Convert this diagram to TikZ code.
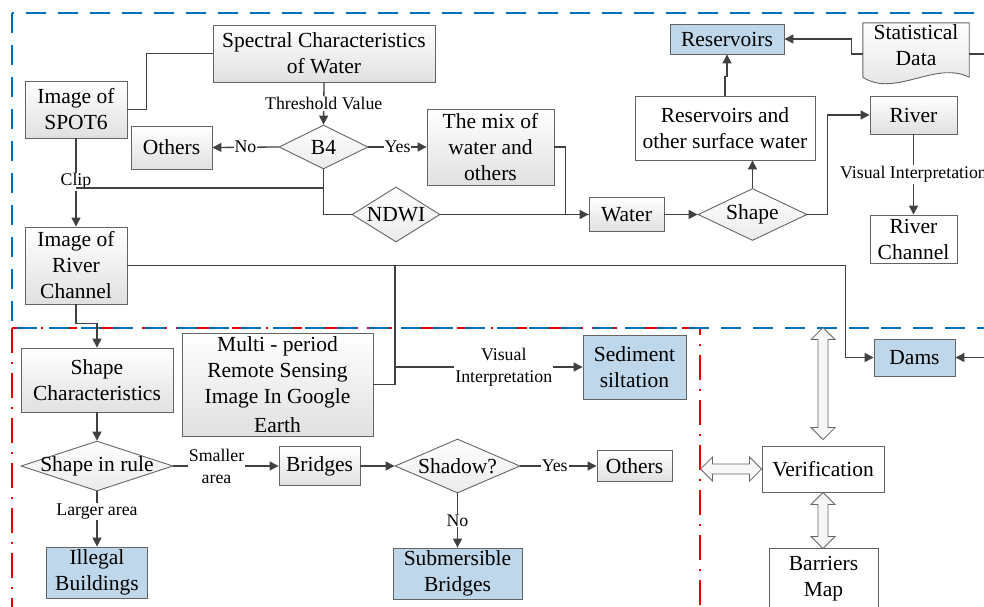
\documentclass[tikz,border=0pt]{standalone}
\usepackage{fontspec}
\setmainfont{Liberation Serif}
\usetikzlibrary{shapes.geometric,arrows.meta}
\definecolor{frameblue}{RGB}{0,112,192}
\definecolor{framered}{RGB}{232,0,0}
\definecolor{resblue}{RGB}{190,215,234}
\definecolor{linegray}{RGB}{64,64,64}
\definecolor{boxgray}{RGB}{100,100,100}
% hollow double arrow: tail point, length, direction
\newcommand{\dblarrow}[3]{%
\draw[hollow,shift={#1},rotate=#3] (0,0) -- (12,12) -- (12,5) -- (#2-12,5) -- (#2-12,12) -- (#2,0) -- (#2-12,-12) -- (#2-12,-5) -- (12,-5) -- (12,-12) -- cycle;}
\tikzset{
>={Triangle[length=9pt,width=9pt]},
every node/.style={font=\fontsize{21.5}{26}\selectfont},
box/.style={draw=boxgray,line width=0.9pt,inner sep=0pt,align=center},
graybox/.style={box,top color=white,bottom color=black!12},
whitebox/.style={box,fill=white},
bluebox/.style={box,fill=resblue},
dia/.style={box,diamond,aspect=2,top color=white,bottom color=black!8},
lbl/.style={font=\fontsize{17.8}{22}\selectfont,fill=white,inner sep=1pt,align=center},
hollow/.style={draw=black!60,fill=black!3,line width=0.8pt},
blueframe/.style={draw=frameblue,line width=2.6pt,dash pattern=on 20pt off 12pt},
redframe/.style={draw=framered,line width=2.6pt,dash pattern=on 25pt off 9pt on 2pt off 9pt}
}
\begin{document}
\begin{tikzpicture}[x=1pt,y=-1pt]
\useasboundingbox (0,0) rectangle (984,606);
\clip (0,0) rectangle (984,606);
\fill[white] (0,0) rectangle (984,606);
\draw[redframe] (12,328) rectangle (700,640);
\draw[blueframe] (12,13) rectangle (1010,328);
% upper part
\node[graybox,minimum width=222pt,minimum height=57pt] (spec) at (324,53.5) {Spectral Characteristics\\of Water};
\node[graybox,minimum width=102pt,minimum height=57pt] (spot) at (76,109.5) {Image of\\SPOT6};
\node[dia,minimum width=89pt,minimum height=44pt] (b4) at (323.5,147) {\makebox[0pt]{B4}};
\node[graybox,minimum width=81pt,minimum height=43pt] (oth1) at (171.5,147.5) {Others};
\node[graybox,minimum width=127pt,minimum height=76pt] (mix) at (490.5,147) {The mix of\\water and\\others};
\node[dia,minimum width=88pt,minimum height=55pt] (ndwi) at (396,214.5) {\makebox[0pt]{NDWI}};
\node[graybox,minimum width=75pt,minimum height=34pt] (water) at (626.5,214.5) {Water};
\node[dia,minimum width=109pt,minimum height=52pt] (shp) at (752.5,214.5) {\makebox[0pt]{Shape}};
\node[whitebox,minimum width=180pt,minimum height=64pt] (rsw) at (725,128) {Reservoirs and\\other surface water};
\node[bluebox,minimum width=114pt,minimum height=30pt] (res) at (727,39) {Reservoirs};
\node[align=center,inner sep=0pt,minimum width=106pt,minimum height=54pt] (stat) at (916,50) {};
\draw[graybox] (stat.north west) -- (stat.north east) -- (stat.south east) .. controls +(-34,-17) and +(32,21) .. (stat.south west) -- cycle;
\node[align=center] (statt) at (916,45.5) {Statistical\\Data};
\node[graybox,minimum width=87pt,minimum height=38pt] (river) at (913.5,115) {River};
\node[whitebox,minimum width=87pt,minimum height=48pt] (rch) at (913.5,239) {River\\Channel};
\node[graybox,minimum width=102pt,minimum height=77pt] (rimg) at (76,265.5) {Image of\\River\\Channel};
% lower part
\node[graybox,minimum width=152pt,minimum height=64pt] (shpc) at (97,380) {Shape\\Characteristics};
\node[graybox,minimum width=191pt,minimum height=103pt] (multi) at (277.5,384.5) {Multi - period\\Remote Sensing\\Image In Google\\[3pt]Earth};
\node[bluebox,minimum width=103pt,minimum height=64pt] (sed) at (634.5,367) {Sediment\\siltation};
\node[bluebox,minimum width=81pt,minimum height=37pt] (dams) at (914.5,357.5) {Dams};
\node[dia,minimum width=152pt,minimum height=50pt] (rule) at (97,466) {\makebox[0pt]{Shape in rule}};
\node[graybox,minimum width=81pt,minimum height=39pt] (brg) at (319.5,466) {Bridges};
\node[dia,minimum width=125pt,minimum height=54pt] (shd) at (457.5,466) {\makebox[0pt]{Shadow?}};
\node[graybox,minimum width=75pt,minimum height=31pt] (oth2) at (634.5,466) {Others};
\node[bluebox,minimum width=129pt,minimum height=51pt] (sub) at (457.5,573.5) {Submersible\\Bridges};
\node[bluebox,minimum width=101pt,minimum height=51pt] (ill) at (97,572.5) {Illegal\\Buildings};
\node[whitebox,minimum width=122pt,minimum height=46pt] (ver) at (823,469) {Verification};
\node[whitebox,minimum width=109pt,minimum height=62pt] (bar) at (823.5,579) {Barriers\\Map};
\coordinate (clipj) at (76,188);
\coordinate (mj) at (395,265.5);
\coordinate (statr) at (984,54);
\coordinate (damsr) at (984,357.5);
\begin{scope}[draw=linegray,line width=1.3pt]
\draw (spot.east) -- ++(19,0) |- (spec.west);
\draw[->] (spec.south) -- node[lbl]{Threshold Value} (b4.north);
\draw[->] (b4.west) -- node[lbl]{No} (oth1.east);
\draw[->] (b4.east) -- node[lbl]{Yes} (mix.west);
\draw[->] (spot.south) -- node[lbl,pos=0.49]{Clip} (rimg.north);
\draw (b4.south) |- (ndwi.west);
\draw (b4.south |- clipj) -- (clipj);
\draw[->] (ndwi.east) -- (water.west);
\draw (mix.east) -- ++(11,0) |- (water.west);
\draw[->] (water.east) -- (shp.west);
\draw[->] (shp.north) -- (shp.north |- rsw.south);
\draw[->] (rsw.north) -- ++(0,-19) -| (res.south);
\draw[->] ([yshift=-4pt]stat.west) -- ++(-11,0) |- (res.east);
\draw ([yshift=-4pt]stat.east) -- (statr);
\draw[->] (shp.east) -- ++(20,0) |- (river.west);
\draw[->] (river.south) -- node[lbl]{Visual Interpretation} (rch.north);
\draw[->] (rimg.east) -- ++(718,0) |- (dams.west);
\draw (multi.east) -| (mj);
\draw[->] (mj |- sed.west) -- node[lbl,pos=0.58]{Visual\\Interpretation} (sed.west);
\draw[->] (damsr) -- (dams.east);
\draw[->] (rimg.south) -- ++(0,19) -| (shpc.north);
\draw[->] (shpc.south) -- (rule.north);
\draw[->] (rule.east) -- node[lbl,pos=0.41]{Smaller\\area} (brg.west);
\draw[->] (rule.south) -- node[lbl,pos=0.36]{Larger area} (ill.north);
\draw[->] (brg.east) -- (shd.west);
\draw[->] (shd.east) -- node[lbl,pos=0.45]{Yes} (oth2.west);
\draw[->] (shd.south) -- node[lbl]{No} (sub.north);
\end{scope}
\dblarrow{([yshift=6pt]ver.north)}{112}{90}
\dblarrow{(ver.south)}{56}{-90}
\dblarrow{(ver.west)}{61}{180}
\end{tikzpicture}
\end{document}
